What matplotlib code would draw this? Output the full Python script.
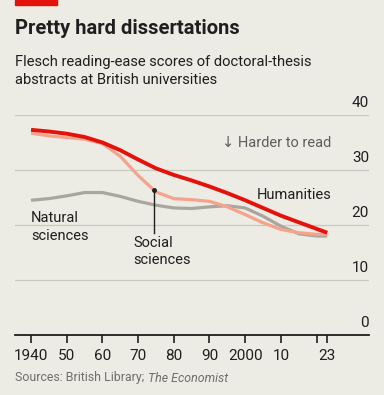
import matplotlib.pyplot as plt
from matplotlib.patches import Rectangle

years = [1940, 1945, 1950, 1955, 1960, 1965, 1970, 1975, 1980, 1985,
         1990, 1995, 2000, 2005, 2010, 2015, 2020, 2023]
humanities = [37.3, 37.0, 36.6, 36.0, 35.0, 33.6, 31.9, 30.3, 29.1, 28.1,
              27.0, 25.8, 24.5, 23.1, 21.7, 20.5, 19.3, 18.6]
social = [36.7, 36.2, 35.9, 35.6, 34.8, 32.5, 29.0, 26.0, 24.8, 24.6,
          24.3, 23.3, 21.9, 20.4, 19.2, 18.6, 18.3, 18.3]
natural = [24.5, 24.8, 25.3, 25.9, 25.9, 25.2, 24.3, 23.6, 23.1, 23.0,
           23.3, 23.5, 23.1, 21.6, 19.8, 18.4, 18.0, 18.0]

xticks = [1940, 1950, 1960, 1970, 1980, 1990, 2000, 2010, 2020, 2023]
xlabels = ["1940", "50", "60", "70", "80", "90", "2000", "10", "", "23"]
yticks = [0, 10, 20, 30, 40]

BG = "#ECEBE4"
RED = "#E3120B"
PINK = "#F5A38C"
GREY = "#A8A69F"
TEXT = "#1F1F1F"

plt.rcParams["font.family"] = ["Roboto", "DejaVu Sans"]

W, H = 384, 395
fig = plt.figure(figsize=(W / 100, H / 100), dpi=100, facecolor=BG)

# red tag top left
fig.patches.append(Rectangle((15 / W, 1 - 5 / H), 42 / W, 5 / H,
                             transform=fig.transFigure, color=RED))

fig.text(15 / W, 1 - 28 / H, "Pretty hard dissertations", fontsize=14.5,
         fontweight="bold", color=TEXT, va="center")
fig.text(15 / W, 1 - 71 / H,
         "Flesch reading-ease scores of doctoral-thesis\nabstracts at British universities",
         fontsize=10.6, color=TEXT, va="center", linespacing=1.4)

ax = fig.add_axes([15 / W, (H - 335) / H, 354 / W, 220 / H])
ax.set_facecolor(BG)
ax.set_xlim(1935.5, 2034.7)
ax.set_ylim(0, 40)

for s in ["left", "right", "top"]:
    ax.spines[s].set_visible(False)
ax.spines["bottom"].set_color(TEXT)
ax.spines["bottom"].set_linewidth(1.3)

ax.set_yticks(yticks)
ax.tick_params(axis="y", length=0, labelleft=False)
ax.grid(axis="y", color="#C9C8C1", linewidth=0.9)
ax.set_axisbelow(True)
for v in yticks:
    ax.text(1.0, v + 0.9, str(v), transform=ax.get_yaxis_transform(),
            ha="right", va="bottom", fontsize=11, color=TEXT)

ax.set_xticks(xticks)
ax.set_xticklabels(xlabels)
ax.tick_params(axis="x", length=6, width=1.2, color=TEXT, labelsize=11,
               labelcolor=TEXT, pad=4)

ax.plot(years, natural, color=GREY, linewidth=2.3, solid_capstyle="butt")
ax.plot(years, social, color=PINK, linewidth=2.3, solid_capstyle="butt")
ax.plot(years, humanities, color=RED, linewidth=2.8, solid_capstyle="butt")

ax.text(1993.5, 34.9, "\u2193 Harder to read", fontsize=10.5, color="#5E5E5E",
        va="center")
ax.text(2003.3, 25.5, "Humanities", fontsize=10.5, color=TEXT, va="center")
ax.text(1940, 22.5, "Natural\nsciences", fontsize=10.5, color=TEXT,
        va="top", linespacing=1.3)
ax.plot([1974.5, 1974.5], [26.4, 18.5], color=TEXT, linewidth=1)
ax.plot([1974.5], [26.4], "o", color=TEXT, markersize=2.5)
ax.text(1968.6, 18.0, "Social\nsciences", fontsize=10.5, color=TEXT,
        va="top", linespacing=1.3)

# source line, italic part placed right after the plain part
src = fig.text(15 / W, 1 - 378 / H, "Sources: British Library; ", fontsize=8.9,
               color="#6E6E6E", va="center")
renderer = fig.canvas.get_renderer()
bb = src.get_window_extent(renderer=renderer)
fig.text(bb.x1 / W, 1 - 378 / H, "The Economist", fontsize=8.9, style="italic",
         color="#6E6E6E", va="center")

fig.savefig("out.png", dpi=100, facecolor=BG)
